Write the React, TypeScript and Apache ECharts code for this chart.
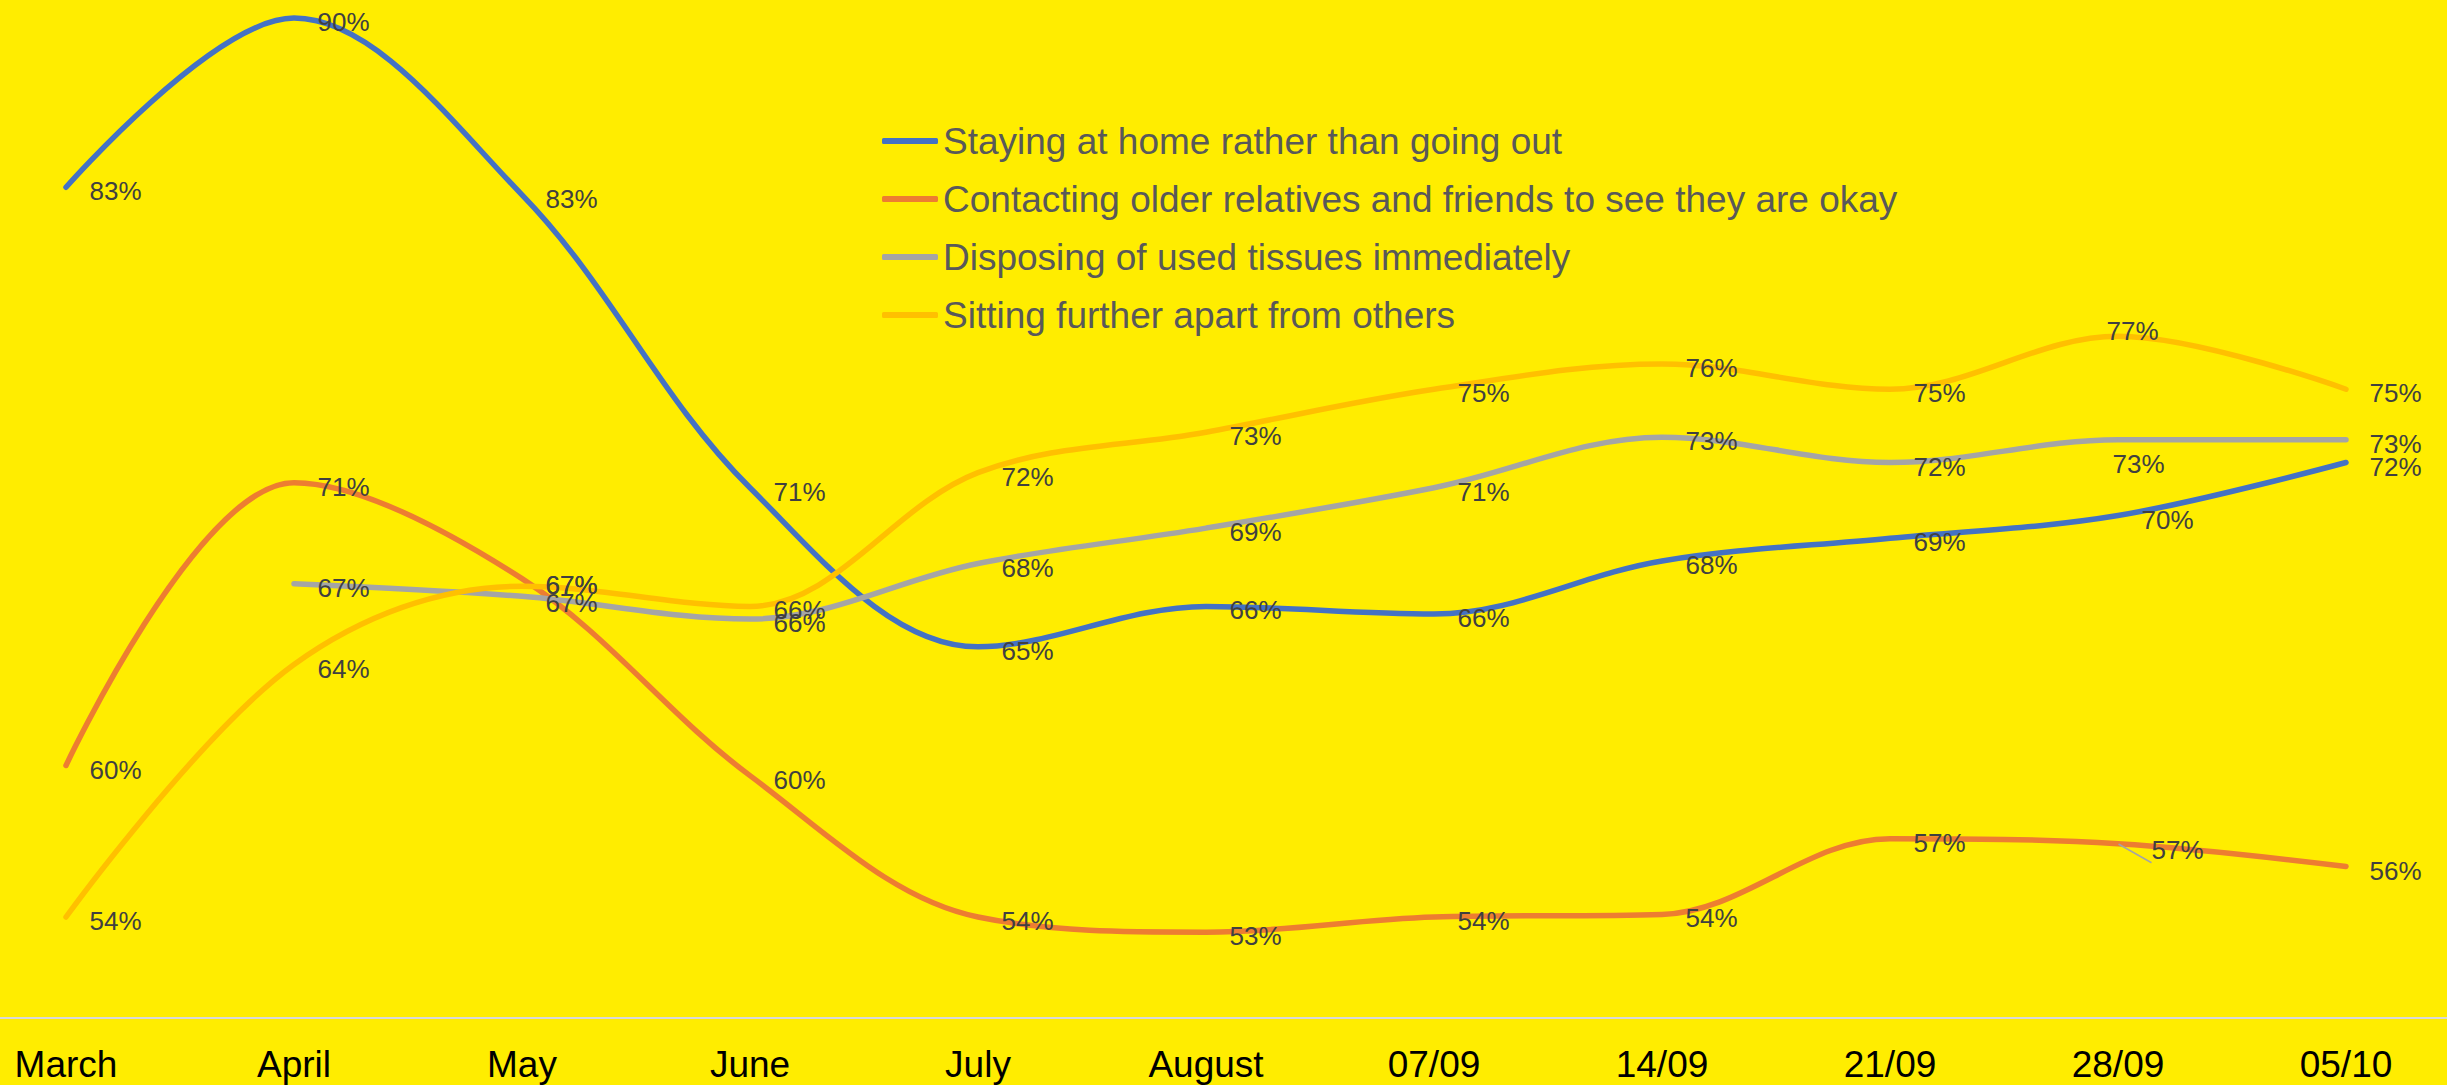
import React, { useEffect, useRef } from "react";
import * as echarts from "echarts";

const categories = ["March", "April", "May", "June", "July", "August", "07/09", "14/09", "21/09", "28/09", "05/10"];

const seriesNames = [
  "Staying at home rather than going out",
  "Contacting older relatives and friends to see they are okay",
  "Disposing of used tissues immediately",
  "Sitting further apart from others",
];

const stayingHome = [82.9, 89.6, 82.6, 71.0, 64.7, 66.3, 66.0, 68.1, 69.0, 69.9, 72.0];
const contacting = [60.0, 71.2, 67.4, 59.6, 54.0, 53.4, 54.0, 54.1, 57.1, 56.9, 56.0];
const tissues = [null, 67.2, 66.7, 65.8, 68.0, 69.4, 71.0, 73.0, 72.0, 72.9, 72.9];
const sitting = [54.0, 64.0, 67.1, 66.3, 71.6, 73.2, 74.9, 75.9, 74.9, 77.0, 74.9];

const yMin = 50;
const yMax = 90;

const colors = ["#4472C4", "#ED7D31", "#A5A5A5", "#FFC000"];
const FONT = "'Liberation Sans', Arial, Helvetica, sans-serif";

// the plot area extends past the page edges; the chart canvas is shifted left
const SHIFT = 48;
const CANVAS_W = 2508;
const PAGE_W = 2447;
const PAGE_H = 1085;

const DEFAULT_LABEL_OFFSET: [number, number] = [0, 4];

// manual label nudges (series index -> category index -> [dx, dy])
const labelNudges: Record<number, Record<number, [number, number]>> = {
  1: { 2: [0, 6.5], 9: [10, 6] },
  2: { 2: [0, 7], 9: [-29, 24] },
  3: { 2: [0, -1], 9: [-35, -5] },
};
// labels that carry a small leader line
const leaderLines: Record<number, number[]> = { 1: [9] };

function buildData(values: (number | null)[], sIdx: number) {
  return values.map((v, i) => {
    const nudge = labelNudges[sIdx] && labelNudges[sIdx][i];
    const leader = leaderLines[sIdx] && leaderLines[sIdx].includes(i);
    if (v === null) return "-";
    if (nudge || leader) {
      const item: any = { value: v, label: { offset: nudge || DEFAULT_LABEL_OFFSET } };
      if (leader) {
        item.labelLine = { show: true, lineStyle: { color: "#A5A5A5", width: 1.5 } };
      }
      return item;
    }
    return v;
  });
}

export default function App() {
  const ref = useRef<HTMLDivElement>(null);

  useEffect(() => {
    if (!ref.current) return;
    const chart = echarts.init(ref.current, null, { renderer: "svg" });
    const allValues = [stayingHome, contacting, tissues, sitting];
    const option: any = {
      animation: false,
      backgroundColor: "#FFED00",
      textStyle: { fontFamily: FONT },
      grid: { left: 0, right: 0, top: 8, bottom: 67, containLabel: false },
      legend: {
        show: true,
        orient: "vertical",
        left: 882 + SHIFT,
        top: 121,
        padding: 0,
        itemWidth: 56,
        itemHeight: 6,
        itemGap: 18,
        icon: "roundRect",
        data: seriesNames,
        textStyle: { color: "#595959", fontSize: 37, lineHeight: 40, fontFamily: FONT },
      },
      xAxis: {
        type: "category",
        data: categories,
        boundaryGap: true,
        axisLine: { show: true, lineStyle: { color: "#D9D9D9", width: 2 } },
        axisTick: { show: false },
        axisLabel: { color: "#000000", fontSize: 37, margin: 28, fontFamily: FONT, interval: 0 },
        splitLine: { show: false },
      },
      yAxis: {
        type: "value",
        min: yMin,
        max: yMax,
        show: false,
        splitLine: { show: false },
      },
      series: allValues.map((vals, sIdx) => ({
        name: seriesNames[sIdx],
        type: "line",
        data: buildData(vals as (number | null)[], sIdx),
        smooth: 0.35,
        connectNulls: false,
        symbol: "circle",
        symbolSize: 1,
        showSymbol: true,
        color: colors[sIdx],
        itemStyle: { color: colors[sIdx] },
        lineStyle: { color: colors[sIdx], width: 5.5, cap: "round" },
        label: {
          show: true,
          position: "right",
          distance: 23,
          offset: DEFAULT_LABEL_OFFSET,
          color: "#404040",
          fontSize: 26,
          fontFamily: FONT,
          formatter: (p: any) => `${Math.round(Number(p.value))}%`,
        },
        emphasis: { disabled: true },
      })),
    };
    chart.setOption(option);
    return () => chart.dispose();
  }, []);

  return (
    <div
      style={{
        position: "absolute",
        left: 0,
        top: 0,
        width: PAGE_W,
        height: PAGE_H,
        overflow: "hidden",
      }}
    >
      <div
        ref={ref}
        style={{ position: "absolute", left: -SHIFT, top: 0, width: CANVAS_W, height: PAGE_H }}
      />
    </div>
  );
}
